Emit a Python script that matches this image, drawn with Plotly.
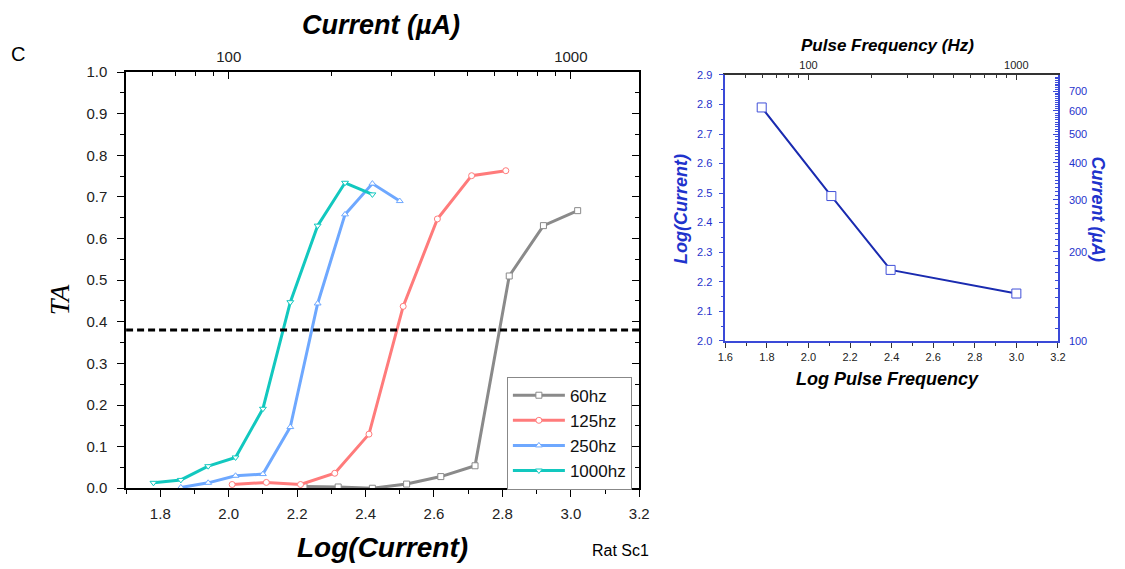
import plotly.graph_objects as go

W, H = 1125, 569

# ---------------- data: left chart (TA vs Log(Current)) ----------------
x_60 = [2.22, 2.32, 2.42, 2.52, 2.62, 2.72, 2.82, 2.92, 3.02]
y_60 = [0.004, 0.003, 0.0, 0.01, 0.028, 0.054, 0.51, 0.631, 0.667]

x_125 = [2.01, 2.11, 2.21, 2.31, 2.41, 2.51, 2.61, 2.71, 2.81]
y_125 = [0.009, 0.014, 0.009, 0.036, 0.13, 0.437, 0.647, 0.751, 0.763]

x_250 = [1.86, 1.94, 2.02, 2.10, 2.18, 2.26, 2.34, 2.42, 2.50]
y_250 = [0.002, 0.013, 0.030, 0.034, 0.147, 0.444, 0.658, 0.732, 0.690]

x_1000 = [1.78, 1.86, 1.94, 2.02, 2.10, 2.18, 2.26, 2.34, 2.42]
y_1000 = [0.013, 0.020, 0.053, 0.074, 0.191, 0.447, 0.631, 0.734, 0.706]

threshold_ta = 0.38

# ---------------- data: right chart (Log(Current) vs Log Pulse Frequency) ----------------
log_freq = [1.775, 2.11, 2.395, 3.0]
log_current = [2.79, 2.49, 2.24, 2.16]

top_ticks_current = [100, 1000]
top_minor_current = [50, 60, 70, 80, 90, 200, 300, 400, 500, 600, 700, 800, 900]
right_ticks_current = [100, 200, 300, 400, 500, 600, 700]
right_minor_current = [v for v in range(110, 800, 10) if v not in right_ticks_current]
top_ticks_freq = [100, 1000]
top_minor_freq = [40, 50, 60, 70, 80, 90, 200, 300, 400, 500, 600, 700, 800, 900]

series = [
    ("60hz", x_60, y_60, "#8a8a8a", "square"),
    ("125hz", x_125, y_125, "#ff7b7b", "circle"),
    ("250hz", x_250, y_250, "#6ea8ff", "triangle-up"),
    ("1000hz", x_1000, y_1000, "#12c8bf", "triangle-down"),
]


def px_x(p):
    return p / W


def px_y(p):
    return 1 - p / H


FONT = "Liberation Sans, Arial, sans-serif"
BLUE = "#1f33cc"
AXBLUE = "#3a4ad8"

fig = go.Figure()

for name, xs, ys, col, sym in series:
    fig.add_trace(go.Scatter(
        x=xs, y=ys, name=name, mode="lines+markers",
        line=dict(color=col, width=3),
        marker=dict(symbol=sym, size=6, color="white", line=dict(color=col, width=1)),
        xaxis="x", yaxis="y",
    ))

# invisible helpers so overlay axes draw
fig.add_trace(go.Scatter(x=[100], y=[0.5], xaxis="x2", yaxis="y", mode="markers",
                         marker=dict(opacity=0), showlegend=False, hoverinfo="skip"))
fig.add_trace(go.Scatter(x=[2.0], y=[0.5], xaxis="x", yaxis="y3", mode="markers",
                         marker=dict(opacity=0), showlegend=False, hoverinfo="skip"))

# right chart
fig.add_trace(go.Scatter(
    x=log_freq, y=log_current, mode="lines+markers", showlegend=False,
    line=dict(color="#1a2bb0", width=2),
    marker=dict(symbol="square", size=9, color="white", line=dict(color="#4050d8", width=1)),
    xaxis="x3", yaxis="y2",
))
fig.add_trace(go.Scatter(x=[100], y=[2.5], xaxis="x4", yaxis="y2", mode="markers",
                         marker=dict(opacity=0), showlegend=False, hoverinfo="skip"))
fig.add_trace(go.Scatter(x=[2.0], y=[200], xaxis="x3", yaxis="y4", mode="markers",
                         marker=dict(opacity=0), showlegend=False, hoverinfo="skip"))

# threshold dashed line
fig.add_shape(type="line", xref="x", yref="y", x0=1.7, x1=3.2, y0=threshold_ta, y1=threshold_ta,
              line=dict(color="black", width=3, dash="7px,4px"))

L_dom_x = [px_x(120), px_x(641.5)]
L_dom_y = [px_y(494), px_y(65)]
R_dom_x = [px_x(729), px_x(1067)]
R_dom_y = [px_y(342), px_y(68)]

tickfont_L = dict(family=FONT, size=15, color="#222")
tickfont_R = dict(family=FONT, size=11, color="#222")
tickfont_Rb = dict(family=FONT, size=11, color=BLUE)

fig.update_layout(
    width=W, height=H, margin=dict(l=0, r=0, t=0, b=0),
    paper_bgcolor="white", plot_bgcolor="white",
    showlegend=True,
    legend=dict(x=px_x(507), y=px_y(379), xanchor="left", yanchor="top",
                bgcolor="white", bordercolor="#888", borderwidth=1,
                font=dict(family=FONT, size=17, color="#111"), tracegroupgap=0,
                itemwidth=52),
    xaxis=dict(domain=L_dom_x, anchor="y", range=[1.7, 3.2], tick0=1.8, dtick=0.2,
               tickformat=".1f", ticks="outside", ticklen=7, tickwidth=1.3, tickcolor="black",
               showline=True, linecolor="black", linewidth=1.5, showgrid=False, zeroline=False,
               tickfont=tickfont_L, ticklabelstandoff=4,
               minor=dict(dtick=0.1, tick0=1.7, ticks="outside", ticklen=4, tickcolor="black", showgrid=False)),
    xaxis2=dict(overlaying="x", anchor="y", side="top", type="log", range=[1.7, 3.2],
                tickmode="array", tickvals=top_ticks_current, ticktext=["100", "1000"],
                ticks="inside", ticklen=7, tickwidth=1.3, tickcolor="black",
                showline=True, linecolor="black", linewidth=1.5, showgrid=False, zeroline=False,
                tickfont=tickfont_L, ticklabelstandoff=2,
                minor=dict(tickmode="array", tickvals=top_minor_current, ticks="inside", ticklen=4,
                           tickcolor="black", showgrid=False)),
    yaxis=dict(domain=L_dom_y, anchor="x", range=[0, 1], dtick=0.1, tickformat=".1f",
               ticks="outside", ticklen=7, tickwidth=1.3, tickcolor="black",
               showline=True, linecolor="black", linewidth=1.5, showgrid=False, zeroline=False,
               tickfont=tickfont_L, ticklabelstandoff=7,
               minor=dict(dtick=0.05, ticks="outside", ticklen=4, tickcolor="black", showgrid=False)),
    yaxis3=dict(overlaying="y", anchor="x", side="right", range=[0, 1], dtick=0.1,
                ticks="inside", ticklen=7, tickwidth=1.3, tickcolor="black", showticklabels=False,
                showline=True, linecolor="black", linewidth=1.5, showgrid=False, zeroline=False,
                minor=dict(dtick=0.05, ticks="inside", ticklen=4, tickcolor="black", showgrid=False)),
    # right chart
    xaxis3=dict(domain=R_dom_x, anchor="y2", range=[1.6, 3.2], dtick=0.2, tickformat=".1f",
                ticks="outside", ticklen=5, tickwidth=1, tickcolor="#333",
                showline=True, linecolor=AXBLUE, linewidth=1.5, showgrid=False, zeroline=False,
                tickfont=tickfont_R,
                minor=dict(dtick=0.1, ticks="outside", ticklen=3, tickcolor="#333", showgrid=False)),
    xaxis4=dict(overlaying="x3", anchor="y2", side="top", type="log", range=[1.6, 3.2],
                tickmode="array", tickvals=top_ticks_freq, ticktext=["100", "1000"],
                ticks="inside", ticklen=5, tickwidth=1, tickcolor="#333",
                showline=True, linecolor="#333", linewidth=1.5, showgrid=False, zeroline=False,
                tickfont=tickfont_R,
                minor=dict(tickmode="array", tickvals=top_minor_freq, ticks="inside", ticklen=3,
                           tickcolor="#333", showgrid=False)),
    yaxis2=dict(domain=R_dom_y, anchor="x3", range=[2.0, 2.9], dtick=0.1, tickformat=".1f",
                ticks="outside", ticklen=5, tickwidth=1, tickcolor=AXBLUE,
                showline=True, linecolor=AXBLUE, linewidth=1.5, showgrid=False, zeroline=False,
                tickfont=tickfont_Rb, ticklabelstandoff=4,
                minor=dict(dtick=0.05, ticks="outside", ticklen=3, tickcolor=AXBLUE, showgrid=False)),
    yaxis4=dict(overlaying="y2", anchor="x3", side="right", type="log", range=[2.0, 2.9],
                tickmode="array", tickvals=right_ticks_current,
                ticktext=[str(v) for v in right_ticks_current],
                ticks="inside", ticklen=5, tickwidth=1, tickcolor=AXBLUE,
                showline=True, linecolor=AXBLUE, linewidth=1.5, showgrid=False, zeroline=False,
                tickfont=tickfont_Rb, ticklabelstandoff=7,
                minor=dict(tickmode="array", tickvals=right_minor_current, ticks="inside", ticklen=3,
                           tickcolor=AXBLUE, showgrid=False)),
)


def ann(text, x, y, size, color="black", angle=0, family=FONT, xanchor="center"):
    fig.add_annotation(text=text, x=px_x(x), y=px_y(y), xref="paper", yref="paper",
                       showarrow=False, textangle=angle, xanchor=xanchor, yanchor="middle",
                       font=dict(family=family, size=size, color=color))


ann("<b><i>Current (µA)</i></b>", 379, 17, 27)
ann("<b><i>Log(Current)</i></b>", 381, 555, 28)
ann("Rat Sc1", 622, 558, 16)
ann("C", 10, 46, 20)
ann("<i>TA</i>", 52, 300, 28, angle=-90, family="Liberation Serif, Times New Roman, serif")

ann("<b><i>Pulse Frequency (Hz)</i></b>", 894, 38, 17)
ann("<b><i>Log Pulse Frequency</i></b>", 894, 381, 18)
ann("<b><i>Log(Current)</i></b>", 684, 206, 18, color=BLUE, angle=-90)
ann("<b><i>Current (µA)</i></b>", 1108, 206, 18, color=BLUE, angle=90)

fig.write_html("out.html")
